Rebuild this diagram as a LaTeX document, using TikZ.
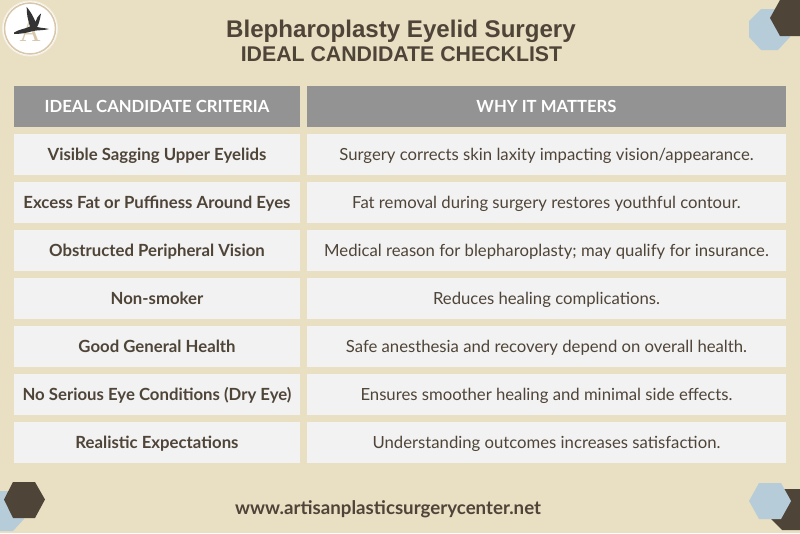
\documentclass[tikz,border=0pt]{standalone}
\usepackage{fontspec}
\setmainfont{Lato}
\newfontfamily\titlefont{Liberation Sans}
\newfontfamily\logofont{Liberation Serif}
\usetikzlibrary{positioning}
\definecolor{sand}{HTML}{E9DFC3}
\definecolor{bark}{HTML}{4F4438}
\definecolor{mist}{HTML}{B6CDD9}
\definecolor{headgray}{HTML}{939393}
\definecolor{cellgray}{HTML}{F2F2F2}
\definecolor{ringtan}{HTML}{D9C7AC}
\tikzset{
  cell/.style={fill=cellgray,text=bark,minimum height=41pt,inner sep=0pt,outer sep=0pt,text height=14pt,text depth=1.5pt,anchor=north west},
  critcell/.style={cell,minimum width=286pt,font=\fontsize{16.75}{20}\selectfont\bfseries},
  whycell/.style={cell,minimum width=479pt,font=\fontsize{16.7}{20}\selectfont},
  headcell/.style={fill=headgray,text=white,font=\fontsize{16.7}{20}\selectfont\bfseries,minimum height=40.5pt,inner sep=0pt,outer sep=0pt,text height=14pt,text depth=1.5pt,anchor=north west},
}
\begin{document}
\begin{tikzpicture}[x=1pt,y=-1pt]
\fill[sand] (0,0) rectangle (800,533);
\useasboundingbox (0,0) rectangle (800,533);

% corners
\fill[mist] (761,9) -- (780,9) -- (790,21) -- (790,37) -- (778,50) -- (761,50) -- (749,37) -- (749,21) -- cycle;
\fill[bark] (780,0) -- (800,0) -- (800,36) -- (780,36) -- (770,18) -- cycle;
\fill[mist] (0,491) -- (24,491) -- (24,519) -- (13,531) -- (0,531) -- cycle;
\fill[bark] (13,482) -- (35,482) -- (45,499.5) -- (35,518) -- (13,518) -- (4,499.5) -- cycle;
\fill[bark] (780,489) -- (800,489) -- (800,530) -- (782,530) -- (771,519) -- cycle;
\fill[mist] (759,483) -- (781,483) -- (791,501) -- (781,519) -- (759,519) -- (749,501) -- cycle;

% logo
\node[circle,fill=white,draw=sand!50!white,line width=1pt,minimum size=55pt,inner sep=0pt] (logo) at (30,28.5) {};
\node[circle,draw=ringtan,line width=1.5pt,minimum size=51pt,inner sep=0pt] (logoring) at (30,28.5) {};
\node[text=ringtan,font=\logofont\fontsize{29}{29}\selectfont,inner sep=0pt,anchor=base] (logoA) at (30,41) {A};
\fill[black!80] (14,32.5) .. controls (20,29) and (25,29) .. (30,26.5) .. controls (28,20) and (26.5,14) .. (26.7,7) .. controls (31,12) and (34,18) .. (35.5,22) .. controls (36,19) and (38,16) .. (41,13.5) .. controls (40,19) and (39,24) .. (37,27) .. controls (41,28) and (45,28) .. (49,29) .. controls (44,30.5) and (38,30) .. (33,31) .. controls (27,33) and (20,34) .. (14,34) -- cycle;

% title
\node[text=bark,font=\titlefont\fontsize{24.1}{28}\selectfont\bfseries,inner sep=0pt,anchor=base] (title) at (401,37) {Blepharoplasty Eyelid Surgery};
\node[text=bark,font=\titlefont\fontsize{21.3}{25}\selectfont\bfseries,inner sep=0pt,anchor=base] (subtitle) at (401.5,61) {IDEAL CANDIDATE CHECKLIST};

% table
\node[headcell,minimum width=286pt] (crit0) at (14,86) {IDEAL CANDIDATE CRITERIA};
\node[headcell,minimum width=479pt] (why0) at (307,86) {WHY IT MATTERS};

\node[critcell,below=7pt of crit0.south west,anchor=north west] (crit1) {Visible Sagging Upper Eyelids};
\node[critcell,below=7pt of crit1.south west,anchor=north west] (crit2) {Excess Fat or Puffiness Around Eyes};
\node[critcell,below=7pt of crit2.south west,anchor=north west] (crit3) {Obstructed Peripheral Vision};
\node[critcell,below=7pt of crit3.south west,anchor=north west] (crit4) {Non-smoker};
\node[critcell,below=7pt of crit4.south west,anchor=north west] (crit5) {Good General Health};
\node[critcell,below=7pt of crit5.south west,anchor=north west] (crit6) {No Serious Eye Conditions (Dry Eye)};
\node[critcell,below=7pt of crit6.south west,anchor=north west] (crit7) {Realistic Expectations};

\node[whycell,below=7pt of why0.south west,anchor=north west] (why1) {Surgery corrects skin laxity impacting vision/appearance.};
\node[whycell,below=7pt of why1.south west,anchor=north west] (why2) {Fat removal during surgery restores youthful contour.};
\node[whycell,below=7pt of why2.south west,anchor=north west] (why3) {Medical reason for blepharoplasty; may qualify for insurance.};
\node[whycell,below=7pt of why3.south west,anchor=north west] (why4) {Reduces healing complications.};
\node[whycell,below=7pt of why4.south west,anchor=north west] (why5) {Safe anesthesia and recovery depend on overall health.};
\node[whycell,below=7pt of why5.south west,anchor=north west] (why6) {Ensures smoother healing and minimal side effects.};
\node[whycell,below=7pt of why6.south west,anchor=north west] (why7) {Understanding outcomes increases satisfaction.};

% footer
\node[text=bark,font=\fontsize{18.7}{22}\selectfont\bfseries,inner sep=0pt,anchor=base] (site) at (388,514) {www.artisanplasticsurgerycenter.net};
\end{tikzpicture}
\end{document}
